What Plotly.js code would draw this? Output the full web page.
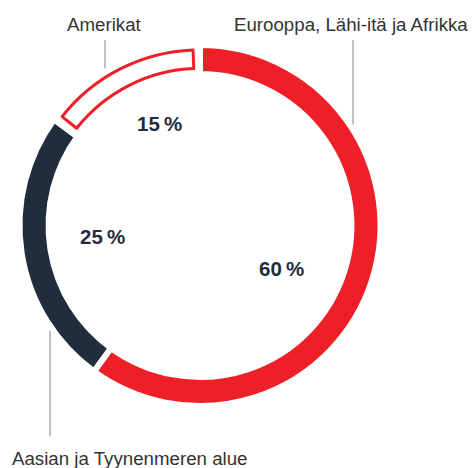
<!DOCTYPE html>
<html>
<head>
<meta charset="utf-8">
<script src="https://cdn.plot.ly/plotly-3.0.1.min.js"></script>
<style>html,body{margin:0;padding:0;background:#fff;}#chart{width:475px;height:468px;}</style>
</head>
<body>
<div id="chart"></div>
<script>
// Data
var regions = ['Eurooppa, Lähi-itä ja Afrikka', 'Aasian ja Tyynenmeren alue', 'Amerikat'];
var shares = [60, 25, 15];
var percentLabels = ['60\u2009%', '25\u2009%', '15\u2009%'];

// Styles
var RED = '#ee1f26', NAVY = '#1f2d3d';
var W = 475, H = 468;

// main ring: Europe (red), Asia (navy), Amerikat (transparent, outlined by second trace)
var ring = {
  type: 'pie',
  values: shares,
  labels: regions,
  sort: false,
  direction: 'clockwise',
  rotation: 0,
  hole: 0.839,
  domain: {x: [19.5/W, 380.5/W], y: [62/H, 423/H]},
  marker: {colors: [RED, NAVY, 'rgba(0,0,0,0)'], line: {color: 'white', width: 6}},
  textinfo: 'none',
  hoverinfo: 'label+percent',
  showlegend: false
};

// outline of the "Amerikat" slice, inset from its neighbours
var pad = 0.63;
var before = shares[0] + shares[1];
var R2 = 175.7;
var outline = {
  type: 'pie',
  values: [before + pad, shares[2] - 2*pad, pad],
  labels: ['a', regions[2], 'b'],
  sort: false,
  direction: 'clockwise',
  rotation: 0,
  hole: 0.894,
  domain: {x: [(200 - R2)/W, (200 + R2)/W], y: [(242.5 - R2)/H, (242.5 + R2)/H]},
  marker: {colors: ['rgba(0,0,0,0)', 'rgba(255,255,255,0)', 'rgba(0,0,0,0)'],
           line: {color: ['rgba(0,0,0,0)', RED, 'rgba(0,0,0,0)'], width: [0, 3, 0]}},
  textinfo: 'none',
  hoverinfo: 'skip',
  showlegend: false
};

function px(x){return x/W;}
function py(y){return 1 - y/H;}

var pctFont = {family: 'Liberation Sans, Arial, sans-serif', size: 20.5, color: NAVY, weight: 700};
var lblFont = {family: 'Liberation Sans, Arial, sans-serif', size: 18.7, color: '#333333'};

var annotations = [
  {x: px(281), y: py(268), text: '<b>' + percentLabels[0] + '</b>', font: pctFont},
  {x: px(102.5), y: py(236), text: '<b>' + percentLabels[1] + '</b>', font: pctFont},
  {x: px(159.5), y: py(124), text: '<b>' + percentLabels[2] + '</b>', font: pctFont},
  {x: px(351), y: py(24.5), text: regions[0], font: lblFont},
  {x: px(129), y: py(458.5), text: regions[1], font: lblFont},
  {x: px(104), y: py(24.5), text: regions[2], font: lblFont}
].map(function(a){
  a.xref = 'paper'; a.yref = 'paper'; a.showarrow = false;
  a.xanchor = 'center'; a.yanchor = 'middle';
  return a;
});

var lineStyle = {color: '#c2c2c6', width: 2};
var shapes = [
  {type: 'line', x0: px(105), x1: px(105), y0: py(40), y1: py(75)},
  {type: 'line', x0: px(353), x1: px(353), y0: py(40), y1: py(136)},
  {type: 'line', x0: px(50), x1: px(50), y0: py(320), y1: py(436)}
].map(function(s){ s.xref = 'paper'; s.yref = 'paper'; s.line = lineStyle; s.layer = 'below'; return s; });

var layout = {
  width: W, height: H,
  margin: {l: 0, r: 0, t: 0, b: 0},
  paper_bgcolor: '#ffffff',
  plot_bgcolor: '#ffffff',
  showlegend: false,
  annotations: annotations,
  shapes: shapes
};

Plotly.newPlot('chart', [ring, outline], layout, {displayModeBar: false, staticPlot: true});
</script>
</body>
</html>
